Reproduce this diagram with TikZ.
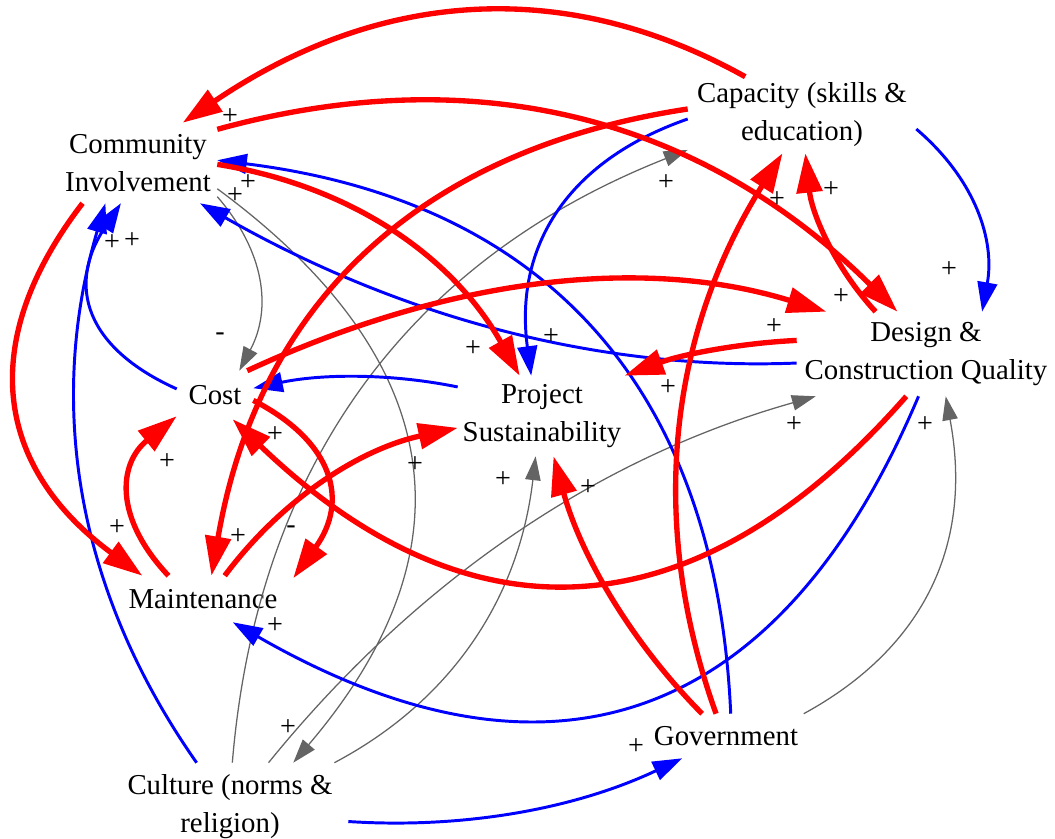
\documentclass[tikz,border=0pt]{standalone}
\usepackage{fontspec}
\setmainfont{Liberation Serif}
\newfontfamily\cldfont{Liberation Serif}
\usetikzlibrary{arrows.meta}
\definecolor{linkgrey}{RGB}{100,100,100}
\tikzset{
  var/.style={align=center, inner sep=0pt, font=\cldfont\fontsize{20.5}{27}\selectfont},
  pol/.style={inner sep=0pt, font=\cldfont\fontsize{20}{20}\selectfont},
  redlink/.style={draw=red, line width=3.8pt, -{Triangle[length=28pt,width=18pt]}},
  bluelink/.style={draw=blue, line width=2.1pt, -{Triangle[length=21pt,width=14pt]}},
  greylink/.style={draw=linkgrey, line width=0.9pt, -{Triangle[length=17pt,width=11pt]}},
}

\begin{document}
\begin{tikzpicture}[x=0.025cm,y=-0.025cm]
        \useasboundingbox (0,0) rectangle (1055,839);

        % Variables
        \node[var, minimum width=3.95cm, minimum height=2cm] (CI) at (138,163) {Community\\Involvement};
        \node[var, minimum width=5.7cm, minimum height=1.9cm] (Cap) at (802,115) {Capacity (skills \&\\education)};
        \node[var, minimum width=6.45cm, minimum height=2.1cm] (DCQ) at (926,354) {Design \&\\Construction Quality};
        \node[var, minimum width=1.9cm, minimum height=1.2cm] (Cost) at (215,395) {Cost};
        \node[var, minimum width=4.2cm, minimum height=2cm] (PS) at (542,416) {Project\\Sustainability};
        \node[var, minimum width=4.5cm, minimum height=1.15cm] (Maint) at (203,599) {Maintenance};
        \node[var, minimum width=5.9cm, minimum height=2.2cm] (Culture) at (230,807) {Culture (norms \&\\religion)};
        \node[var, minimum width=4cm, minimum height=1.1cm] (Gov) at (726,736) {Government};

        % Grey links
        \draw[greylink] (CI.-23.8) .. controls (265,252) and (272,309) .. (Cost.45);
        \draw[greylink] (CI.-18.9) .. controls (451,361) and (473,552) .. (Culture.35);
        \draw[greylink] (Culture.87.4) .. controls (257,465) and (409,260) .. (Cap.-163.9);
        \draw[greylink] (Culture.49.2) .. controls (416,581) and (597,458) .. (DCQ.-159.6);
        \draw[greylink] (Culture.23.7) .. controls (451,701) and (519,599) .. (PS.-99.7);
        \draw[greylink] (Gov.16) .. controls (926,647) and (973,542) .. (DCQ.-65.6);

        % Blue links
        \draw[bluelink] (Cap.-7.6) .. controls (976,180) and (995,241) .. (DCQ.37.9);
        \draw[bluelink] (Cap.-178.5) .. controls (567,161) and (514,247) .. (PS.105.8);
        \draw[bluelink] (Cost.171.1) .. controls (86,348) and (66,286) .. (CI.-113);
        \draw[bluelink] (Culture.127.3) .. controls (77,592) and (46,405) .. (CI.-129.5);
        \draw[bluelink] (PS.161) .. controls (389,373) and (321,374) .. (Cost.10.4);
        \draw[bluelink] (DCQ.-176) .. controls (601,371) and (401,318) .. (CI.-33.7);
        \draw[bluelink] (Gov.78.1) .. controls (716,387) and (545,201) .. (CI.2.2);
        \draw[bluelink] (DCQ.-100) .. controls (779,726) and (549,804) .. (Maint.-38.4);
        \draw[bluelink] (Culture.-7.2) .. controls (463,829) and (575,809) .. (Gov.-153.4);

        % Red links
        \draw[redlink] (Cap.146.3) .. controls (563,-25) and (377,-9) .. (CI.42.3);
        \draw[redlink] (CI.23.2) .. controls (476,58) and (702,118) .. (DCQ.124.6);
        \draw[redlink] (DCQ.140.8) .. controls (836,269) and (812,215) .. (Cap.-85.5);
        \draw[redlink] (Cap.177.4) .. controls (417,150) and (258,305) .. (Maint.70.9);
        \draw[redlink] (CI.-1.5) .. controls (352,186) and (453,257) .. (PS.119.4);
        \draw[redlink] (Cost.37.5) .. controls (452,276) and (645,256) .. (DCQ.157.4);
        \draw[redlink] (DCQ.174.6) .. controls (742,343) and (683,354) .. (PS.26.3);
        \draw[redlink] (Gov.114) .. controls (647,522) and (669,334) .. (Cap.-117.8);
        \draw[redlink] (Gov.137.9) .. controls (632,643) and (581,556) .. (PS.-74.3);
        \draw[redlink] (DCQ.-115.2) .. controls (696,636) and (470,647) .. (Cost.-54.2);
        \draw[redlink] (Cost.-8.1) .. controls (334,442) and (349,501) .. (Maint.13.7);
        \draw[redlink] (Maint.146.3) .. controls (114,518) and (118,464) .. (Cost.-151.4);
        \draw[redlink] (CI.-144) .. controls (-24,342) and (-5,467) .. (Maint.159.1);
        \draw[redlink] (Maint.47.7) .. controls (282,499) and (360,449) .. (PS.-172);

        % Polarities
        \node[pol] (pCapCI) at (230,117) {+};
        \node[pol] (pGovCI) at (248,183) {+};
        \node[pol] (pDCQCI) at (235,196) {+};
        \node[pol] (pCulCI) at (112,243) {+};
        \node[pol] (pCostCI) at (132,241) {+};
        \node[pol] (pCICost) at (220,337) {-};
        \node[pol] (pCulCap) at (666,183) {+};
        \node[pol] (pGovCap) at (777,200) {+};
        \node[pol] (pDCQCap) at (831,190) {+};
        \node[pol] (pCapDCQ) at (949,270) {+};
        \node[pol] (pCIDCQ) at (841,297) {+};
        \node[pol] (pCostDCQ) at (774,327) {+};
        \node[pol] (pCapPS) at (551,337) {+};
        \node[pol] (pCIPS) at (473,349) {+};
        \node[pol] (pDCQPS) at (668,388) {+};
        \node[pol] (pCulDCQ) at (794,425) {+};
        \node[pol] (pGovDCQ) at (925,425) {+};
        \node[pol] (pMaintCost) at (167,462) {+};
        \node[pol] (pDCQCost) at (275,435) {+};
        \node[pol] (pMaintPS) at (415,465) {+};
        \node[pol] (pCulPS) at (503,480) {+};
        \node[pol] (pGovPS) at (588,488) {+};
        \node[pol] (pCIMaint) at (117,528) {+};
        \node[pol] (pCapMaint) at (238,537) {+};
        \node[pol] (pCostMaint) at (291,530) {-};
        \node[pol] (pDCQMaint) at (275,626) {+};
        \node[pol] (pCICul) at (288,728) {+};
        \node[pol] (pCulGov) at (636,747) {+};

\end{tikzpicture}
\end{document}
